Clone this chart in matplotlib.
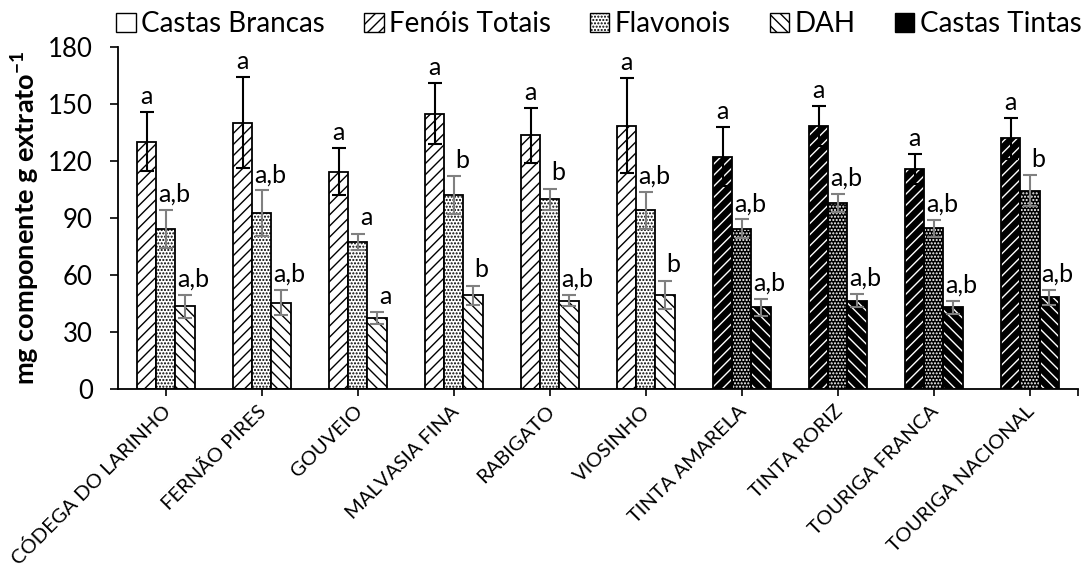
import matplotlib
matplotlib.use("Agg")
import matplotlib.pyplot as plt
import matplotlib.transforms as mtransforms
import numpy as np
from matplotlib.patches import Patch
from matplotlib.ticker import FixedLocator

categories = ["CÓDEGA DO LARINHO", "FERNÃO PIRES", "GOUVEIO", "MALVASIA FINA",
              "RABIGATO", "VIOSINHO", "TINTA AMARELA", "TINTA RORIZ",
              "TOURIGA FRANCA", "TOURIGA NACIONAL"]
is_red = [False] * 6 + [True] * 4

fenois = [130.2, 140.3, 114.5, 145.0, 133.5, 138.6, 122.4, 138.6, 115.9, 131.9]
fenois_err = [15.5, 23.7, 12.3, 16.0, 14.5, 25.0, 15.3, 10.5, 7.9, 10.7]
flavonois = [84.5, 92.6, 77.5, 102.0, 100.0, 94.2, 84.5, 97.9, 84.7, 104.5]
flavonois_err = [10.0, 12.0, 4.4, 10.0, 5.5, 9.8, 4.8, 4.9, 4.4, 8.1]
dah = [43.5, 45.6, 37.5, 49.5, 46.5, 49.6, 43.0, 46.6, 43.2, 48.4]
dah_err = [6.0, 6.7, 3.0, 5.0, 3.0, 7.5, 4.4, 3.6, 3.4, 3.9]

fenois_lbl = ["a"] * 10
flavonois_lbl = ["a,b", "a,b", "a", "b", "b", "a,b", "a,b", "a,b", "a,b", "b"]
dah_lbl = ["a,b", "a,b", "a", "b", "a,b", "b", "a,b", "a,b", "a,b", "a,b"]

legend_labels = ["Castas Brancas", "Fenóis Totais", "Flavonois", "DAH", "Castas Tintas"]
yticks = [0, 30, 60, 90, 120, 150, 180]

FONT = ["Lato", "DejaVu Sans"]
plt.rcParams['font.family'] = FONT
plt.rcParams['mathtext.fontset'] = 'custom'
plt.rcParams['mathtext.rm'] = 'Lato'
plt.rcParams['mathtext.bf'] = 'Lato:bold'
plt.rcParams['hatch.linewidth'] = 1.0

fig = plt.figure(figsize=(10.91, 5.74), dpi=100)
ax = fig.add_axes([0.108, 0.322, 0.880, 0.596])

x = np.arange(len(categories))
w = 0.2
series = [(fenois, fenois_err, fenois_lbl, '///', 'black'),
          (flavonois, flavonois_err, flavonois_lbl, '.....', '#808080'),
          (dah, dah_err, dah_lbl, '\\\\\\', '#808080')]
offsets = [-w, 0, w]
for k, (vals, errs, lbls, hatch, ecol) in enumerate(series):
    xs = x + offsets[k]
    for i in range(len(x)):
        if is_red[i]:
            ax.bar(xs[i], vals[i], w, color='black', edgecolor='white', hatch=hatch,
                   linewidth=0, zorder=2)
            ax.bar(xs[i], vals[i], w, facecolor='none', edgecolor='black',
                   linewidth=1.3, zorder=3)
        else:
            ax.bar(xs[i], vals[i], w, color='white', edgecolor='black', hatch=hatch,
                   linewidth=1.3, zorder=2)
    ax.errorbar(xs, vals, yerr=errs, fmt='none', ecolor=ecol, elinewidth=1.5,
                capsize=5, capthick=1.5, zorder=4)
    dx = 0 if k == 0 else 0.09
    for i in range(len(x)):
        ax.annotate(lbls[i], (xs[i] + dx, vals[i] + errs[i]), xytext=(0, 3),
                    textcoords='offset points', ha='center', va='bottom',
                    fontsize=18, zorder=5)

ax.set_xlim(-0.5, len(categories) - 0.5)
ax.set_ylim(0, 180)
ax.set_yticks(yticks)
ax.tick_params(axis='y', labelsize=18.5, length=6, width=1.2, direction='out', pad=12)
ax.set_xticks(x)
ax.xaxis.set_minor_locator(FixedLocator([len(categories) - 0.5]))
ax.tick_params(axis='x', which='both', length=5, width=1.2, direction='out', pad=9)
ax.set_xticklabels(categories, rotation=45, ha='right', va='center',
                   rotation_mode='anchor', fontsize=14.5)
shift = mtransforms.ScaledTranslation(2 / 100, 0, fig.dpi_scale_trans)
for lab in ax.get_xticklabels():
    lab.set_transform(lab.get_transform() + shift)
for s in ['top', 'right']:
    ax.spines[s].set_visible(False)
for s in ['left', 'bottom']:
    ax.spines[s].set_linewidth(1.3)
    ax.spines[s].set_color('black')

ax.set_ylabel("mg componente g extrato$\\mathbf{^{-1}}$", fontsize=19.5, fontweight='bold',
              labelpad=4)

handles = [Patch(facecolor='white', edgecolor='black', linewidth=1.0),
           Patch(facecolor='white', edgecolor='black', hatch='///', linewidth=1.0),
           Patch(facecolor='white', edgecolor='black', hatch='.....', linewidth=1.0),
           Patch(facecolor='white', edgecolor='black', hatch='\\\\\\', linewidth=1.0),
           Patch(facecolor='black', edgecolor='black', linewidth=1.0)]
fig.legend(handles, legend_labels, loc='upper center', bbox_to_anchor=(0.549, 1.0),
           ncol=5, frameon=False, fontsize=20, handlelength=0.7, handleheight=0.7,
           handletextpad=0.2, columnspacing=1.4, borderaxespad=0)

fig.savefig("out.png", dpi=100)
